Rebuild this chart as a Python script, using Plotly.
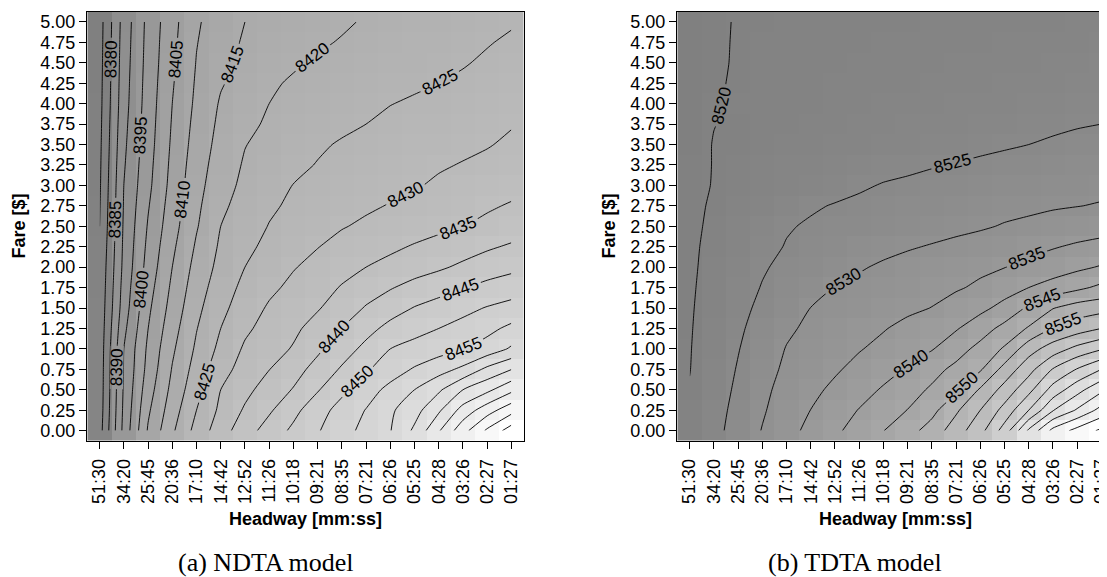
import plotly.graph_objects as go

# ---------------- data ----------------
headway = ["51:30", "34:20", "25:45", "20:36", "17:10", "14:42", "12:52", "11:26", "10:18",
           "09:21", "08:35", "07:21", "06:26", "05:25", "04:28", "03:26", "02:27", "01:27"]
fare = [0.00, 0.25, 0.50, 0.75, 1.00, 1.25, 1.50, 1.75, 2.00, 2.25, 2.50,
        2.75, 3.00, 3.25, 3.50, 3.75, 4.00, 4.25, 4.50, 4.75, 5.00]

# NDTA model (rows = fare, columns = headway)
ndta = [
    [8378.0, 8396.5, 8410.5, 8419.2, 8426.7, 8432.8, 8437.8, 8442.1, 8446.0, 8449.6, 8453.1, 8456.5, 8459.8, 8465.9, 8474.5, 8483.2, 8490.8, 8497.5],
    [8377.5, 8396.0, 8409.2, 8417.7, 8425.0, 8431.1, 8435.6, 8439.3, 8443.6, 8448.0, 8451.8, 8455.2, 8459.2, 8463.1, 8469.2, 8476.9, 8482.8, 8488.2],
    [8377.3, 8395.6, 8407.8, 8416.4, 8423.3, 8430.0, 8433.7, 8437.1, 8440.3, 8444.6, 8448.9, 8452.8, 8456.4, 8460.0, 8464.2, 8470.0, 8473.8, 8478.8],
    [8377.2, 8395.25, 8406.6, 8415.3, 8422.0, 8428.1, 8432.0, 8434.9, 8438.1, 8441.7, 8445.6, 8449.4, 8452.6, 8455.5, 8458.0, 8461.1, 8466.2, 8469.9],
    [8377.0, 8395.0, 8405.9, 8414.2, 8420.8, 8426.3, 8430.7, 8433.0, 8435.4, 8439.1, 8442.7, 8446.3, 8450.0, 8451.6, 8453.1, 8454.7, 8457.0, 8460.7],
    [8376.8, 8393.75, 8404.95, 8413.05, 8419.8, 8425.0, 8429.1, 8431.8, 8434.0, 8436.85, 8440.05, 8443.35, 8446.45, 8448.4, 8450.0, 8451.65, 8453.65, 8456.15],
    [8376.6, 8392.5, 8404.0, 8411.9, 8418.75, 8423.7, 8427.5, 8430.6, 8432.6, 8434.6, 8437.4, 8440.4, 8442.9, 8445.25, 8446.95, 8448.6, 8450.3, 8451.6],
    [8376.3, 8391.9, 8402.95, 8410.95, 8417.7, 8422.6, 8426.25, 8428.95, 8431.15, 8433.05, 8435.35, 8437.7, 8439.65, 8441.6, 8443.1, 8444.75, 8446.4, 8447.7],
    [8376.0, 8391.25, 8401.9, 8410.0, 8416.7, 8421.5, 8425.0, 8427.3, 8429.7, 8431.5, 8433.3, 8435.0, 8436.4, 8437.9, 8439.3, 8440.9, 8442.5, 8443.75],
    [8375.5, 8390.9, 8401.15, 8409.05, 8415.65, 8420.75, 8423.8, 8426.25, 8428.2, 8429.85, 8431.5, 8432.9, 8434.1, 8435.4, 8436.6, 8437.9, 8439.35, 8440.6],
    [8375.0, 8390.6, 8400.4, 8408.1, 8414.6, 8420.0, 8422.6, 8425.2, 8426.7, 8428.2, 8429.7, 8430.8, 8431.8, 8432.9, 8433.9, 8434.9, 8436.2, 8437.5],
    [8374.7, 8390.3, 8399.6, 8407.4, 8413.95, 8419.05, 8421.85, 8424.2, 8425.9, 8427.1, 8428.3, 8429.3, 8430.25, 8431.25, 8432.3, 8433.2, 8434.35, 8435.45],
    [8374.4, 8390.0, 8398.8, 8406.7, 8413.3, 8418.1, 8421.1, 8423.2, 8425.1, 8426.0, 8426.9, 8427.8, 8428.7, 8429.6, 8430.7, 8431.5, 8432.5, 8433.4],
    [8374.2, 8389.5, 8398.35, 8406.25, 8412.7, 8417.4, 8420.5, 8422.3, 8424.0, 8425.2, 8426.15, 8426.95, 8427.8, 8428.6, 8429.5, 8430.25, 8431.1, 8432.1],
    [8374.0, 8389.0, 8397.9, 8405.8, 8412.1, 8416.7, 8419.85, 8421.4, 8422.9, 8424.4, 8425.4, 8426.1, 8426.9, 8427.6, 8428.3, 8429.0, 8429.7, 8430.8],
    [8373.8, 8388.55, 8397.6, 8405.4, 8411.55, 8416.1, 8418.8, 8420.7, 8421.95, 8423.2, 8424.15, 8425.0, 8425.9, 8426.55, 8427.2, 8427.85, 8428.65, 8429.7],
    [8373.6, 8388.1, 8397.3, 8405.0, 8411.0, 8415.5, 8417.7, 8420.0, 8421.0, 8422.0, 8422.9, 8423.9, 8424.9, 8425.5, 8426.05, 8426.7, 8427.6, 8428.6],
    [8373.45, 8387.85, 8397.05, 8404.55, 8410.6, 8414.6, 8416.9, 8419.4, 8420.5, 8421.25, 8422.05, 8422.9, 8423.75, 8424.4, 8425.0, 8425.7, 8426.6, 8427.6],
    [8373.3, 8387.6, 8396.8, 8404.1, 8410.2, 8413.75, 8416.1, 8417.8, 8419.5, 8420.5, 8421.2, 8421.9, 8422.6, 8423.3, 8424.0, 8424.7, 8425.6, 8426.6],
    [8373.15, 8387.35, 8396.6, 8403.75, 8409.8, 8413.1, 8415.55, 8416.95, 8418.35, 8419.4, 8420.3, 8421.15, 8421.85, 8422.55, 8423.25, 8423.95, 8424.75, 8425.6],
    [8373.0, 8387.1, 8396.4, 8403.4, 8409.4, 8412.4, 8415.0, 8416.1, 8417.2, 8418.3, 8419.4, 8420.4, 8421.1, 8421.8, 8422.5, 8423.2, 8423.9, 8424.6],
]

# TDTA model (rows = fare, columns = headway)
tdta = [
    [8521.0, 8523.6, 8526.9, 8530.2, 8533.3, 8536.3, 8539.1, 8542.0, 8544.9, 8548.1, 8552.1, 8557.65, 8563.35, 8572.1, 8585.85, 8596.5, 8601.7, 8606.0],
    [8520.6, 8523.2, 8526.4, 8529.5, 8532.3, 8535.05, 8537.7, 8540.2, 8542.7, 8545.1, 8548.5, 8554.2, 8560.0, 8566.7, 8575.0, 8584.7, 8590.6, 8596.7],
    [8520.2, 8522.6, 8525.9, 8529.0, 8531.5, 8533.8, 8536.0, 8538.2, 8540.5, 8543.0, 8545.7, 8549.1, 8555.6, 8561.8, 8568.5, 8576.9, 8583.2, 8589.0],
    [8519.9, 8522.5, 8525.3, 8528.3, 8530.8, 8532.6, 8534.4, 8536.4, 8538.3, 8540.4, 8543.3, 8546.25, 8549.4, 8556.8, 8563.2, 8570.3, 8575.3, 8580.0],
    [8519.8, 8522.3, 8524.8, 8527.5, 8530.2, 8531.7, 8533.3, 8534.7, 8536.3, 8538.0, 8539.7, 8542.9, 8546.5, 8550.6, 8557.9, 8562.4, 8566.5, 8569.6],
    [8519.7, 8522.0, 8524.3, 8526.7, 8529.25, 8530.9, 8532.2, 8533.5, 8534.7, 8536.3, 8537.9, 8539.6, 8542.7, 8546.5, 8550.5, 8555.2, 8557.6, 8560.0],
    [8519.6, 8521.7, 8523.8, 8525.9, 8527.95, 8530.05, 8531.05, 8532.05, 8533.05, 8534.05, 8535.1, 8536.95, 8538.8, 8541.5, 8545.8, 8549.8, 8552.2, 8553.2],
    [8519.5, 8521.4, 8523.3, 8525.2, 8526.85, 8528.5, 8530.1, 8531.0, 8531.9, 8532.7, 8533.6, 8534.5, 8535.8, 8537.9, 8540.0, 8541.9, 8543.9, 8546.1],
    [8519.4, 8521.15, 8522.9, 8524.6, 8525.95, 8527.2, 8528.4, 8529.6, 8530.6, 8531.5, 8532.3, 8533.2, 8534.05, 8534.9, 8536.25, 8537.6, 8539.0, 8540.4],
    [8519.35, 8520.9, 8522.4, 8523.9, 8525.2, 8526.3, 8527.2, 8528.05, 8528.85, 8529.6, 8530.3, 8531.05, 8531.8, 8532.6, 8533.6, 8534.65, 8535.7, 8536.4],
    [8519.3, 8520.6, 8521.95, 8523.2, 8524.7, 8525.4, 8526.0, 8526.5, 8527.1, 8527.7, 8528.3, 8528.9, 8529.5, 8530.3, 8530.9, 8531.7, 8532.35, 8533.2],
    [8519.2, 8520.4, 8521.4, 8522.35, 8523.45, 8524.6, 8525.2, 8525.7, 8526.15, 8526.65, 8527.2, 8527.7, 8528.3, 8528.7, 8529.1, 8529.55, 8529.9, 8530.3],
    [8519.1, 8520.15, 8520.8, 8521.5, 8522.4, 8523.1, 8523.85, 8524.55, 8525.2, 8525.6, 8526.1, 8526.5, 8527.0, 8527.4, 8527.75, 8528.2, 8528.6, 8528.9],
    [8519.05, 8520.1, 8520.6, 8521.15, 8521.8, 8522.3, 8522.9, 8523.4, 8523.9, 8524.3, 8524.75, 8525.15, 8525.6, 8526.0, 8526.4, 8526.85, 8527.3, 8527.6],
    [8519.0, 8520.1, 8520.4, 8520.8, 8521.2, 8521.5, 8521.9, 8522.3, 8522.6, 8523.0, 8523.4, 8523.8, 8524.2, 8524.6, 8525.0, 8525.5, 8526.0, 8526.3],
    [8518.95, 8519.95, 8520.4, 8520.65, 8521.0, 8521.25, 8521.6, 8521.9, 8522.2, 8522.5, 8522.85, 8523.15, 8523.5, 8523.8, 8524.15, 8524.3, 8524.7, 8525.0],
    [8518.9, 8519.75, 8520.45, 8520.65, 8520.8, 8521.0, 8521.3, 8521.5, 8521.8, 8522.0, 8522.3, 8522.5, 8522.8, 8523.0, 8523.3, 8523.6, 8524.0, 8524.4],
    [8518.85, 8519.6, 8520.4, 8520.6, 8520.8, 8520.95, 8521.2, 8521.35, 8521.6, 8521.75, 8522.0, 8522.2, 8522.4, 8522.6, 8522.85, 8523.1, 8523.45, 8523.8],
    [8518.8, 8519.5, 8520.3, 8520.55, 8520.75, 8520.9, 8521.05, 8521.2, 8521.35, 8521.5, 8521.7, 8521.85, 8522.0, 8522.2, 8522.4, 8522.65, 8522.9, 8523.2],
    [8518.75, 8519.5, 8520.25, 8520.45, 8520.65, 8520.75, 8520.9, 8521.0, 8521.15, 8521.3, 8521.45, 8521.55, 8521.7, 8521.85, 8522.0, 8522.2, 8522.4, 8522.6],
    [8518.7, 8519.5, 8520.2, 8520.3, 8520.5, 8520.6, 8520.75, 8520.85, 8520.95, 8521.05, 8521.15, 8521.25, 8521.35, 8521.45, 8521.6, 8521.75, 8521.9, 8522.0],
]

ndta_levels = dict(start=8375, end=8500, size=5)
tdta_levels = dict(start=8520, end=8610, size=5)

# ---------------- figure ----------------
W, H = 1107, 577
OFF = 8  # page body margin: figure origin sits at page (8, 8)
SANS = "Liberation Sans, Arial, Helvetica, sans-serif"
SERIF = "Liberation Serif, Times New Roman, serif"
gray = [[0.0, "rgb(128,128,128)"], [1.0, "rgb(255,255,255)"]]
x_idx = list(range(len(headway)))
fare_txt = [f"{v:.2f}" for v in fare]


def px(v):
    return (v - OFF) / W


def py(v):
    return 1 - (v - OFF) / H


fig = go.Figure()


def add_panel(z, levels, xa, ya):
    fig.add_trace(go.Heatmap(x=x_idx, y=fare, z=z, colorscale=gray, showscale=False,
                             zsmooth=False, hoverinfo="skip", xaxis=xa, yaxis=ya))
    fig.add_trace(go.Contour(x=x_idx, y=fare, z=z, autocontour=False,
                             contours=dict(start=levels["start"], end=levels["end"],
                                           size=levels["size"], coloring="none",
                                           showlabels=True,
                                           labelfont=dict(family=SANS, size=17, color="black")),
                             line=dict(color="black", width=0.9, smoothing=0.6),
                             showscale=False, hoverinfo="skip", xaxis=xa, yaxis=ya))


add_panel(ndta, ndta_levels, "x", "y")
add_panel(tdta, tdta_levels, "x2", "y2")

ydom = [py(440.7), py(11.7)]
common_x = dict(tickvals=x_idx, ticktext=headway, tickangle=-90, ticks="outside",
                ticklen=7, tickwidth=1, tickcolor="black", showline=True,
                linecolor="black", linewidth=1, showgrid=False, zeroline=False,
                range=[-0.52, 17.52], mirror=True,
                tickfont=dict(family=SANS, size=18, color="black"), ticklabelstandoff=3)
common_y = dict(tickvals=fare, ticktext=fare_txt, ticks="outside", ticklen=7,
                tickwidth=1, tickcolor="black", showline=True, linecolor="black",
                linewidth=1, showgrid=False, zeroline=False, domain=ydom,
                range=[-0.123, 5.125], mirror=True,
                tickfont=dict(family=SANS, size=18, color="black"), ticklabelstandoff=0)

fig.update_layout(
    width=W, height=H, autosize=False,
    margin=dict(l=0, r=0, t=0, b=0),
    paper_bgcolor="white", plot_bgcolor="white",
    showlegend=False,
    xaxis=dict(domain=[px(87), px(524)], anchor="y", **common_x),
    yaxis=dict(anchor="x", **common_y),
    xaxis2=dict(domain=[px(677), px(1114)], anchor="y2", **common_x),
    yaxis2=dict(anchor="x2", **common_y),
)

ann = []
for cx in (18.6, 608.5):
    ann.append(dict(text="<b>Fare [$]</b>", x=px(cx), y=py(226), xref="paper",
                    yref="paper", showarrow=False, textangle=-90,
                    font=dict(family=SANS, size=18, color="black"),
                    xanchor="center", yanchor="middle"))
for cx in (305.5, 895.5):
    ann.append(dict(text="<b>Headway [mm:ss]</b>", x=px(cx), y=py(519), xref="paper",
                    yref="paper", showarrow=False,
                    font=dict(family=SANS, size=18, color="black"),
                    xanchor="center", yanchor="middle"))
for cx, t in ((266, "(a) NDTA model"), (855, "(b) TDTA model")):
    ann.append(dict(text=t, x=px(cx), y=py(562.5), xref="paper", yref="paper",
                    showarrow=False, font=dict(family=SERIF, size=26, color="black"),
                    xanchor="center", yanchor="middle"))
fig.update_layout(annotations=ann)

fig.write_html("out.html")
